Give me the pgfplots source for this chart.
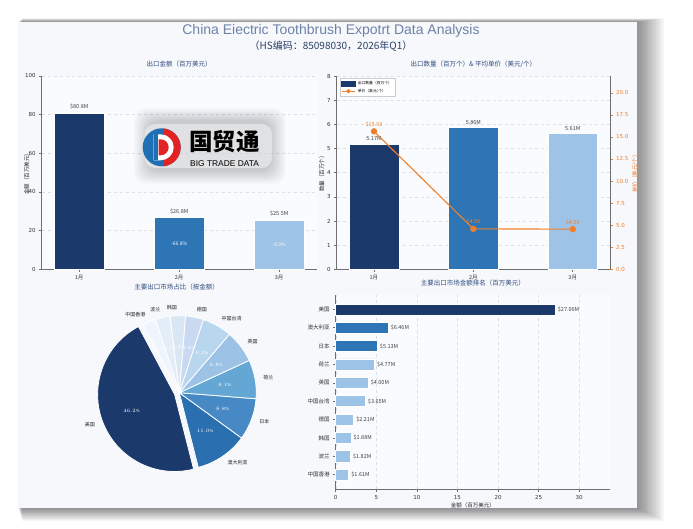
\documentclass[border=0pt]{standalone}
\usepackage{pgfplots}
\pgfplotsset{compat=1.18}
\usepackage{fontspec}
\setmainfont{DejaVu Sans}
\newfontfamily\cjk{Noto Sans CJK SC}
\newfontfamily\arial{Liberation Sans}
\definecolor{navy}{HTML}{1B3A6B}
\definecolor{midblue}{HTML}{2E75B6}
\definecolor{lightblue}{HTML}{9DC3E6}
\definecolor{orng}{HTML}{F07F2A}
\definecolor{titlec}{HTML}{2E4A7A}
\definecolor{maintitle}{HTML}{6E82A6}
\definecolor{subtitle}{HTML}{2B3F66}
\definecolor{logoblue}{HTML}{1F6FB5}
\definecolor{logored}{HTML}{E22323}
\definecolor{panel}{HTML}{F6F8FC}
\definecolor{axbg}{HTML}{FAFBFE}
\definecolor{gridc}{HTML}{DADFE8}
\definecolor{spine}{HTML}{6E6E6E}
\definecolor{p1}{HTML}{1B3A6B}
\definecolor{p2}{HTML}{2A6FB0}
\definecolor{p3}{HTML}{4689C5}
\definecolor{p4}{HTML}{64A7D4}
\definecolor{p5}{HTML}{9CC3E5}
\definecolor{p6}{HTML}{B9D6EF}
\definecolor{p7}{HTML}{C8D9F1}
\definecolor{p8}{HTML}{D9E7F5}
\definecolor{p9}{HTML}{E4EEF9}
\definecolor{p10}{HTML}{EEF5FC}
\pgfplotsset{
  base/.style={scale only axis, clip=false,
    axis x line*=bottom, axis y line*=left,
    axis line style={spine, line width=0.8pt},
    tick style={spine, line width=0.5pt}, tick align=outside, major tick length=2.5pt,
    tick label style={font=\fontsize{5.5}{6}\selectfont, text=black!80},
    /pgf/number format/assume math mode=true,
    title style={font=\cjk\fontsize{6.5}{7}\selectfont, text=titlec, yshift=-1pt},
    label style={font=\cjk\fontsize{5.5}{6}\selectfont, text=black!85},
    major grid style={gridc, dashed, line width=0.4pt},
  },
  valnode/.style={nodes near coords, point meta=explicit symbolic,
    every node near coord/.append style={font=\cjk\fontsize{5.5}{5.5}\selectfont, text=black!75}},
}
\begin{document}
\begin{tikzpicture}[x=1pt,y=1pt]
\fill[white] (0,0) rectangle (693,528);
% shadow
\foreach \k in {1,...,14}{
  \fill[black, opacity=0.035] (18+0.3*\k, 20-0.9*\k) rectangle (637+1.9*\k, 506+0.25*\k);
}
\fill[panel] (18,20) rectangle (637,506);

% titles
\node[font=\arial\fontsize{14}{15}\selectfont, text=maintitle] at (331,497) {China Eiectric Toothbrush Expotrt Data Analysis};
\node[font=\cjk\fontsize{10}{11}\selectfont, text=subtitle] at (331,482) {（HS编码：85098030，2026年Q1）};

% ---------- Axis 1: export amount ----------
\begin{axis}[base, at={(41.7pt,258.7pt)}, anchor=south west, width=275pt, height=193.3pt,
  axis background/.style={fill=axbg},
  xmin=-0.375, xmax=2.375, ymin=0, ymax=100, ytick={0,20,...,100},
  xtick={0,1,2}, xticklabels={1月,2月,3月}, xticklabel style={font=\cjk\fontsize{5.5}{6}\selectfont},
  ymajorgrids,
  title={出口金额（百万美元）}, ylabel={金额（百万美元）},
  ylabel style={yshift=-11pt}]
\addplot[ybar, bar width=0.5, bar shift=0pt, fill=navy, draw=white, line width=0.6pt, valnode] coordinates {(0,80.8) [\$80.8M]};
\addplot[ybar, bar width=0.5, bar shift=0pt, fill=midblue, draw=white, line width=0.6pt, valnode] coordinates {(1,26.8) [\$26.8M]};
\addplot[ybar, bar width=0.5, bar shift=0pt, fill=lightblue, draw=white, line width=0.6pt, valnode] coordinates {(2,25.5) [\$25.5M]};
\addplot[draw=none, mark=none, nodes near coords, point meta=explicit symbolic,
  every node near coord/.append style={anchor=center, font=\cjk\fontsize{5}{5}\selectfont, text=white}]
  coordinates {(1,13.4) [-66.8\%] (2,12.75) [-5.0\%]};
\end{axis}

% logo watermark
\foreach \k in {1,...,10}{
  \fill[black, opacity=0.018, rounded corners=12pt] (150-1.6*\k, 358-1.4*\k) rectangle (270+1.6*\k, 406+1.4*\k);
}
\fill[white, opacity=0.45, rounded corners=10pt] (145,360) rectangle (272,404);
\begin{scope}[shift={(161.7,380.7)}]
  \fill[logoblue] (0,0) circle (19);
  \fill[logored] (2,-19) arc[start angle=-84, end angle=84, radius=19] -- cycle;
  \fill[white] (-8,-13) -- (-8,13) -- (-1,13) arc[start angle=90, end angle=-90, radius=13] -- cycle;
  \fill[logored] (-3,-8) -- (-3,8) -- (-1,8) arc[start angle=90, end angle=-90, radius=8] -- cycle;
  \fill[logoblue] (-8,-13) -- (-8,13) -- (-4,13) -- (-4,-13) -- cycle;
\end{scope}
\node[font=\cjk\bfseries\fontsize{23.5}{24}\selectfont, anchor=west, inner sep=0pt] at (189,386) {国贸通};
\node[font=\arial\fontsize{8.4}{9}\selectfont, anchor=west, inner sep=0pt] at (190,364.5) {BIG TRADE DATA};

% ---------- Axis 2: quantity & price ----------
\begin{axis}[base, at={(336.7pt,258.7pt)}, anchor=south west, width=273.3pt, height=193.3pt,
  axis background/.style={fill=axbg},
  xmin=-0.375, xmax=2.375, ymin=0, ymax=8, ytick={0,1,...,8},
  xtick={0,1,2}, xticklabels={1月,2月,3月}, xticklabel style={font=\cjk\fontsize{5.5}{6}\selectfont},
  ymajorgrids,
  title={出口数量（百万个）\& 平均单价（美元/个）}, ylabel={数量（百万个）},
  ylabel style={yshift=-4pt},
  legend style={at={(0.012,0.988)}, anchor=north west, font=\cjk\fontsize{3.8}{4}\selectfont,
    draw=black!20, fill=white, inner sep=1pt, row sep=-1.5pt, cells={anchor=west}},
  legend image post style={scale=0.8}]
\addlegendimage{area legend, fill=navy, draw=navy}
\addlegendentry{出口数量（百万个）}
\addlegendimage{orng, line width=1pt, mark=*, mark size=2pt}
\addlegendentry{单价（美元/个）}
\addplot[ybar, bar width=0.5, bar shift=0pt, fill=navy, draw=white, line width=0.6pt, valnode, forget plot] coordinates {(0,5.17) [5.17M]};
\addplot[ybar, bar width=0.5, bar shift=0pt, fill=midblue, draw=white, line width=0.6pt, valnode, forget plot] coordinates {(1,5.86) [5.86M]};
\addplot[ybar, bar width=0.5, bar shift=0pt, fill=lightblue, draw=white, line width=0.6pt, valnode, forget plot] coordinates {(2,5.61) [5.61M]};
\end{axis}
\begin{axis}[base, at={(336.7pt,258.7pt)}, anchor=south west, width=273.3pt, height=193.3pt,
  axis x line=none, axis y line*=right,
  xmin=-0.375, xmax=2.375, ymin=0, ymax=21.9, ytick={0,2.5,...,20},
  yticklabel style={text=orng, /pgf/number format/.cd, fixed, fixed zerofill, precision=1},
  ytick style={orng},
  ylabel={单价（美元/个）}, ylabel style={text=orng, yshift=3pt}]
\addplot[orng, line width=1.1pt, mark=*, mark size=2.6pt, nodes near coords, point meta=explicit symbolic,
  every node near coord/.append style={font=\cjk\fontsize{5.5}{5.5}\selectfont, text=orng, anchor=south, yshift=0.5pt}]
  coordinates {(0,15.63) [\$15.63] (1,4.58) [\$4.58] (2,4.55) [\$4.55]};
\end{axis}

% ---------- Axis 3: pie ----------
\node[font=\cjk\fontsize{6.5}{7}\selectfont, text=titlec] at (176.7,240.7) {主要出口市场占比（按金额）};
\begin{axis}[at={(79.3pt,35.3pt)}, anchor=south west, scale only axis, width=200pt, height=200pt,
  xmin=-100, xmax=100, ymin=-100, ymax=100, hide axis, clip=false]
\addplot[draw=none, forget plot] coordinates {(0,0)};
\pgfplotsextra{
\foreach \v/\col/\nm/\ex [remember=\ea as \sa (initially 118)] in
  {27.06/p1/美国/5, 6.46/p2/澳大利亚/0, 5.13/p3/日本/0, 4.77/p4/荷兰/0, 4.00/p5/英国/0,
   3.65/p6/中国台湾/0, 2.21/p7/德国/0, 1.88/p8/韩国/0, 1.82/p9/波兰/0, 1.61/p10/中国香港/0}{
  \pgfmathsetmacro\ea{\sa+\v/58.59*360}
  \pgfmathsetmacro\md{(\sa+\ea)/2}
  \pgfmathsetmacro\ox{\ex*cos(\md)}
  \pgfmathsetmacro\oy{\ex*sin(\md)}
  \pgfmathsetmacro\pc{\v/58.59*100}
  \pgfmathsetmacro\lx{\ox+84.7*cos(\md)}
  \pgfmathsetmacro\ly{\oy+84.7*sin(\md)}
  \pgfmathsetmacro\px{\ox+46.2*cos(\md)}
  \pgfmathsetmacro\py{\oy+46.2*sin(\md)}
  \pgfmathsetmacro\anc{cos(\md)>=0 ? 180 : 0}
  \fill[\col, draw=white, line width=0.8pt] (axis cs:\ox,\oy) -- ++(\sa:77pt) arc[start angle=\sa, end angle=\ea, radius=77pt] -- cycle;
  \node[font=\cjk\fontsize{5}{5}\selectfont, text=black!85, anchor=\anc, inner sep=0.5pt] at (axis cs:\lx,\ly) {\nm};
  \node[font=\fontsize{4}{4.5}\selectfont, text=white, inner sep=0pt] at (axis cs:\px,\py) {\pgfmathprintnumber[fixed, fixed zerofill, precision=1]{\pc}\%};
}
}
\end{axis}

% ---------- Axis 4: ranking ----------
\begin{axis}[base, at={(335.7pt,39pt)}, anchor=south west, width=274.3pt, height=194pt,
  axis background/.style={fill=axbg},
  xmin=0, xmax=33.8, ymin=-0.78, ymax=9.78, xtick={0,5,...,30},
  ytick={0,1,...,9}, yticklabels={中国香港,波兰,韩国,德国,中国台湾,英国,荷兰,日本,澳大利亚,美国},
  yticklabel style={font=\cjk\fontsize{5.5}{6}\selectfont},
  xmajorgrids,
  title={主要出口市场金额排名（百万美元）}, xlabel={金额（百万美元）},
  xlabel style={yshift=3pt},
  every node near coord/.append style={anchor=west, xshift=-1pt}]
\addplot[xbar, bar width=0.6, bar shift=0pt, fill=navy, draw=white, line width=0.6pt, valnode] coordinates {(27.06,9) [\$27.06M]};
\addplot[xbar, bar width=0.6, bar shift=0pt, fill=midblue, draw=white, line width=0.6pt, valnode] coordinates {(6.46,8) [\$6.46M] (5.13,7) [\$5.13M]};
\addplot[xbar, bar width=0.6, bar shift=0pt, fill=lightblue, draw=white, line width=0.6pt, valnode] coordinates {(4.77,6) [\$4.77M] (4.00,5) [\$4.00M] (3.65,4) [\$3.65M] (2.21,3) [\$2.21M] (1.88,2) [\$1.88M] (1.82,1) [\$1.82M] (1.61,0) [\$1.61M]};
\end{axis}
\end{tikzpicture}
\end{document}
